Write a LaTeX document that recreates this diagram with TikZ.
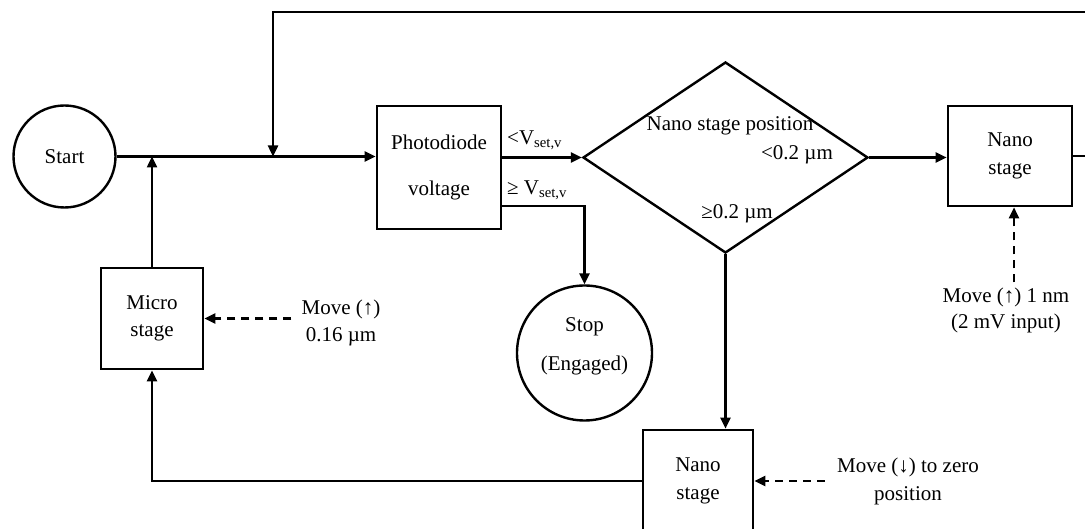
\documentclass[tikz,border=0pt]{standalone}
\usepackage{fontspec}
\setmainfont{Liberation Serif}
\usetikzlibrary{arrows.meta,shapes.geometric}
\begin{document}
\begin{tikzpicture}[x=1pt,y=-1pt,
  every node/.style={font=\fontsize{21}{26}\selectfont},
  box/.style={draw,line width=2.6pt,rectangle,inner sep=0pt,align=center},
  circ/.style={draw,line width=2.4pt,circle,inner sep=0pt,align=center},
  conn/.style={line width=2.4pt,-{Triangle[length=11pt,width=10pt]}},
  dashconn/.style={line width=2.4pt,dash pattern=on 8pt off 6pt,-{Triangle[length=11pt,width=10pt]}},
  lbl/.style={inner sep=0pt,align=center}]
\useasboundingbox (0,0) rectangle (1085,529);
% nodes
\node[circ,minimum size=102pt] (start) at (64.5,156.5) {Start};
\node[box,minimum width=124pt,minimum height=123pt] (pd) at (439,167.5) {Photodiode\\[20pt]voltage};
\node[draw,diamond,aspect=1.49,line width=2.4pt,minimum width=285pt,minimum height=191pt,inner sep=0pt] (dia) at (725.5,157.5) {};
\node[box,minimum width=124pt,minimum height=100pt] (nr) at (1010,156) {Nano\\[2pt]stage};
\node[box,minimum width=102pt,minimum height=101pt] (ms) at (152,318.5) {Micro\\[1pt]stage};
\node[circ,minimum size=135pt] (stop) at (584.5,353) {};
\node[lbl] (stoptxt) at (584.5,346) {Stop\\[13pt](Engaged)};
\node[box,minimum width=110pt,minimum height=102pt] (nb) at (698,481) {Nano\\[2pt]stage};
% labels
\node[lbl,anchor=west] (lt) at (507,140) {<V\textsubscript{set,v}};
\node[lbl,anchor=west] (ge) at (507,190) {≥ V\textsubscript{set,v}};
\node[lbl] (pos) at (730,126) {Nano stage position};
\node[lbl] (lt2) at (797,155) {<0.2 µm};
\node[lbl] (ge2) at (737,214) {≥0.2 µm};
\node[lbl] (mvn) at (1006,310) {Move (↑) 1 nm\\(2 mV input)};
\node[lbl] (mvm) at (341,322.5) {Move (↑)\\[1pt]0.16 µm};
\node[lbl] (mvb) at (908,481) {Move (↓) to zero\\[2pt]position};
% coordinates
\coordinate (j0) at (ms.north |- start.east);
\coordinate (j1) at (273,156.5);
\coordinate (tr) at (1095,12);
\coordinate (nrin) at ([xshift=4pt]nr.south);
% connectors
\draw[conn] (start.east) -- (pd.west |- start.east);
\draw[conn] (ms.north) -- (j0);
\draw[conn] (nr.east) -| (tr) -| (j1);
\draw[conn] (pd.east |- dia.west) -- (dia.west);
\draw[conn] ([yshift=-38.5pt]pd.east) -| (stop.north);
\draw[conn] (dia.east) -- (nr.west |- dia.east);
\draw[conn] (dia.south) -- (dia.south |- nb.north);
\draw[conn] (nb.west) -| (ms.south);
\draw[dashconn,shorten <=10pt] (mvm.west |- ms.east) -- (ms.east);
\draw[dashconn,shorten <=5pt] (nrin |- mvn.north) -- (nrin);
\draw[dashconn,shorten <=12pt] (mvb.west |- nb.east) -- (nb.east);
\end{tikzpicture}
\end{document}
